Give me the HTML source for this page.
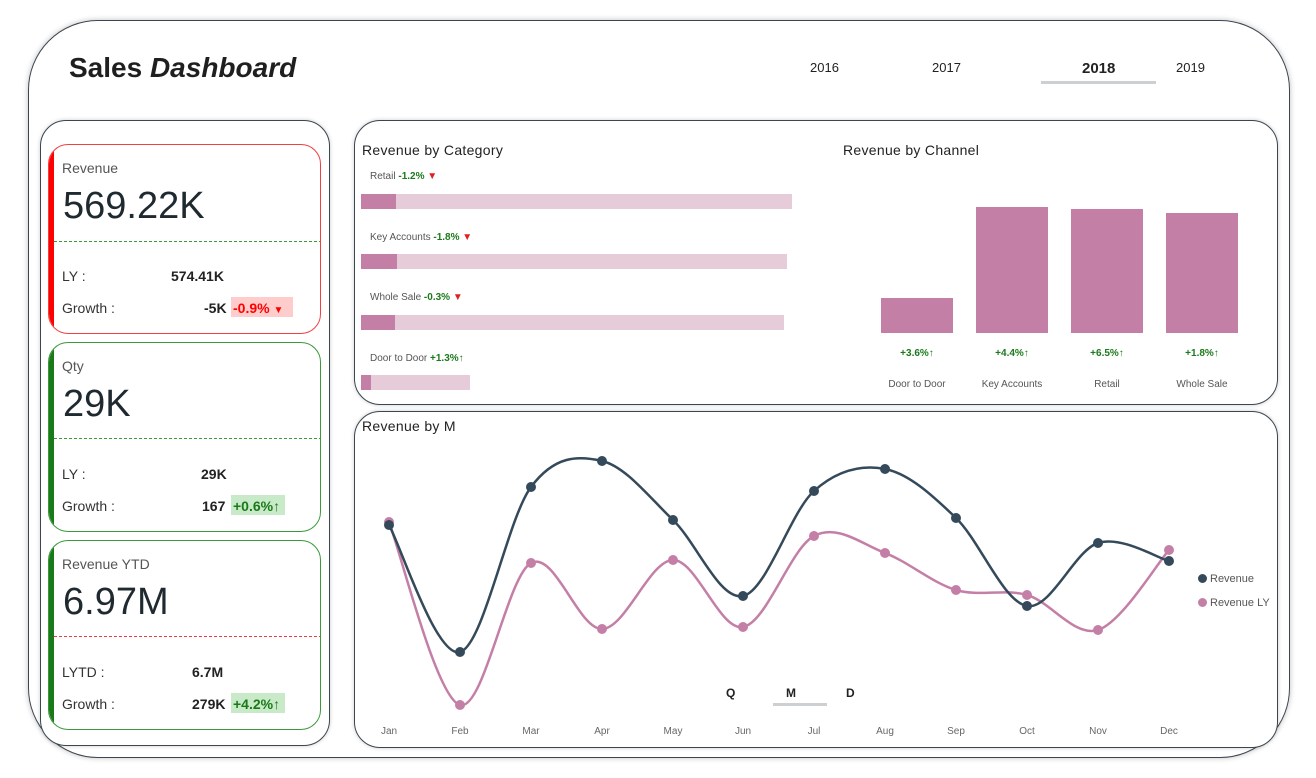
<!DOCTYPE html>
<html><head><meta charset="utf-8"><style>
*{margin:0;padding:0;box-sizing:border-box}
body{width:1316px;height:778px;background:#fff;position:relative;overflow:hidden;font-family:"Liberation Sans",sans-serif;color:#222}
.a{position:absolute}
.frame{left:28px;top:20px;width:1262px;height:738px;border:1.5px solid #3a4650;border-radius:70px;box-shadow:0 0 6px rgba(0,0,0,.25)}
.panel{border:1.3px solid #3a4650;border-radius:26px;box-shadow:0 0 4px rgba(0,0,0,.2);background:#fff}
.card{border-radius:20px;background:#fff;overflow:hidden}
.bar{position:absolute;left:0;top:0;bottom:0;width:5px}
.t{font-size:14px;color:#555}
.big{font-size:38px;color:#1f2a30}
.sm{font-size:14px;color:#333}
.b{font-weight:bold;font-size:14px;color:#222}
.h{font-size:14px;color:#222;letter-spacing:.3px}
.cat{font-size:10px;color:#555}
.g{color:#1a7a1a;font-weight:bold}
.r{color:#e02020}
.lbl{font-size:10px;color:#555;text-align:center;width:90px}
.pct{font-size:10px;color:#1a7a1a;font-weight:bold;text-align:center;width:90px}
</style></head><body>
<div class="a frame"></div>
<div class="a" style="left:69px;top:52px;font-size:28px;font-weight:bold;color:#1f1f1f">Sales <i>Dashboard</i></div>
<div class="a" style="left:810px;top:60px;font-size:13px">2016</div>
<div class="a" style="left:932px;top:60px;font-size:13px">2017</div>
<div class="a" style="left:1082px;top:60px;font-size:15px;font-weight:bold">2018</div>
<div class="a" style="left:1041px;top:81px;width:115px;height:3px;background:#ccd0d3"></div>
<div class="a" style="left:1176px;top:60px;font-size:13px">2019</div>

<div class="a panel" style="left:40px;top:120px;width:290px;height:626px"></div>
<!-- card 1 -->
<div class="a card" style="left:48px;top:144px;width:273px;height:190px;border:1px solid #f04040">
 <div class="bar" style="background:#f00"></div>
 <div class="a t" style="left:13px;top:15px">Revenue</div>
 <div class="a big" style="left:14px;top:40px">569.22K</div>
 <div class="a" style="left:5px;top:96px;width:268px;border-top:1px dashed #3a9a3a"></div>
 <div class="a sm" style="left:13px;top:123px">LY :</div>
 <div class="a b" style="left:122px;top:123px">574.41K</div>
 <div class="a sm" style="left:13px;top:155px">Growth :</div>
 <div class="a b" style="left:155px;top:155px">-5K</div>
 <div class="a" style="left:182px;top:152px;width:62px;height:20px;background:#fcc"></div>
 <div class="a" style="left:184px;top:155px;font-size:14px;font-weight:bold;color:#f00">-0.9% <span style="font-size:10px">▼</span></div>
</div>
<!-- card 2 -->
<div class="a card" style="left:48px;top:342px;width:273px;height:190px;border:1px solid #3a9a3a">
 <div class="bar" style="background:#1a7a1a"></div>
 <div class="a t" style="left:13px;top:15px">Qty</div>
 <div class="a big" style="left:14px;top:40px">29K</div>
 <div class="a" style="left:5px;top:95px;width:268px;border-top:1px dashed #3a9a3a"></div>
 <div class="a sm" style="left:13px;top:123px">LY :</div>
 <div class="a b" style="left:152px;top:123px">29K</div>
 <div class="a sm" style="left:13px;top:155px">Growth :</div>
 <div class="a b" style="left:153px;top:155px">167</div>
 <div class="a" style="left:182px;top:152px;width:54px;height:20px;background:#c8eac8"></div>
 <div class="a g" style="left:184px;top:155px;font-size:14px">+0.6%↑</div>
</div>
<!-- card 3 -->
<div class="a card" style="left:48px;top:540px;width:273px;height:190px;border:1px solid #3a9a3a">
 <div class="bar" style="background:#1a7a1a"></div>
 <div class="a t" style="left:13px;top:15px">Revenue YTD</div>
 <div class="a big" style="left:14px;top:40px">6.97M</div>
 <div class="a" style="left:5px;top:95px;width:268px;border-top:1px dashed #e04040"></div>
 <div class="a sm" style="left:13px;top:123px">LYTD :</div>
 <div class="a b" style="left:143px;top:123px">6.7M</div>
 <div class="a sm" style="left:13px;top:155px">Growth :</div>
 <div class="a b" style="left:143px;top:155px">279K</div>
 <div class="a" style="left:182px;top:152px;width:54px;height:20px;background:#c8eac8"></div>
 <div class="a g" style="left:184px;top:155px;font-size:14px">+4.2%↑</div>
</div>

<div class="a panel" style="left:354px;top:120px;width:924px;height:285px"></div>
<div class="a h" style="left:362px;top:142px">Revenue by Category</div>
<div class="a cat" style="left:370px;top:171px">Retail <span class="g">-1.2%</span> <span class="r">▼</span></div>
<div class="a" style="left:361px;top:194px;width:431px;height:15px;background:#e6cbd9"></div><div class="a" style="left:361px;top:194px;width:35px;height:15px;background:#c47fa6"></div>
<div class="a cat" style="left:370px;top:232px">Key Accounts <span class="g">-1.8%</span> <span class="r">▼</span></div>
<div class="a" style="left:361px;top:254px;width:426px;height:15px;background:#e6cbd9"></div><div class="a" style="left:361px;top:254px;width:36px;height:15px;background:#c47fa6"></div>
<div class="a cat" style="left:370px;top:292px">Whole Sale <span class="g">-0.3%</span> <span class="r">▼</span></div>
<div class="a" style="left:361px;top:315px;width:423px;height:15px;background:#e6cbd9"></div><div class="a" style="left:361px;top:315px;width:34px;height:15px;background:#c47fa6"></div>
<div class="a cat" style="left:370px;top:353px">Door to Door <span class="g">+1.3%↑</span></div>
<div class="a" style="left:361px;top:375px;width:109px;height:15px;background:#e6cbd9"></div><div class="a" style="left:361px;top:375px;width:10px;height:15px;background:#c47fa6"></div>

<div class="a h" style="left:843px;top:142px">Revenue by Channel</div>
<div class="a" style="left:881px;top:298px;width:72px;height:35px;background:#c47fa6"></div>
<div class="a" style="left:976px;top:207px;width:72px;height:126px;background:#c47fa6"></div>
<div class="a" style="left:1071px;top:209px;width:72px;height:124px;background:#c47fa6"></div>
<div class="a" style="left:1166px;top:213px;width:72px;height:120px;background:#c47fa6"></div>
<div class="a pct" style="left:872px;top:348px">+3.6%↑</div>
<div class="a pct" style="left:967px;top:348px">+4.4%↑</div>
<div class="a pct" style="left:1062px;top:348px">+6.5%↑</div>
<div class="a pct" style="left:1157px;top:348px">+1.8%↑</div>
<div class="a lbl" style="left:872px;top:379px">Door to Door</div>
<div class="a lbl" style="left:967px;top:379px">Key Accounts</div>
<div class="a lbl" style="left:1062px;top:379px">Retail</div>
<div class="a lbl" style="left:1157px;top:379px">Whole Sale</div>

<div class="a panel" style="left:354px;top:411px;width:924px;height:337px"></div>
<div class="a h" style="left:362px;top:418px">Revenue by M</div>
<svg class="a" style="left:0;top:0" width="1316" height="778" id="sv"></svg>
<div class="a" style="left:726px;top:686px;font-size:12px;font-weight:bold">Q</div>
<div class="a" style="left:786px;top:686px;font-size:12px;font-weight:bold">M</div>
<div class="a" style="left:773px;top:703px;width:54px;height:3px;background:#ccd0d3"></div>
<div class="a" style="left:846px;top:686px;font-size:12px;font-weight:bold">D</div>
<div class="a" style="left:1198px;top:574px;width:9px;height:9px;border-radius:50%;background:#34495a"></div>
<div class="a" style="left:1210px;top:573px;font-size:11px;color:#555">Revenue</div>
<div class="a" style="left:1198px;top:598px;width:9px;height:9px;border-radius:50%;background:#c47fa6"></div>
<div class="a" style="left:1210px;top:597px;font-size:11px;color:#555">Revenue LY</div>
<script>
var xs=[389,460,531,602,673,743,814,885,956,1027,1098,1169];
var m=["Jan","Feb","Mar","Apr","May","Jun","Jul","Aug","Sep","Oct","Nov","Dec"];
var rv=[525,652,487,461,520,596,491,469,518,606,543,561];
var ly=[522,705,563,629,560,627,536,553,590,595,630,550];
var s='';
function path(y){var p='M'+xs[0]+' '+y[0];for(var i=0;i<11;i++){var x0=xs[Math.max(i-1,0)],y0=y[Math.max(i-1,0)],x1=xs[i],y1=y[i],x2=xs[i+1],y2=y[i+1],x3=xs[Math.min(i+2,11)],y3=y[Math.min(i+2,11)];
p+=' C'+(x1+(x2-x0)/6)+' '+(y1+(y2-y0)/6)+' '+(x2-(x3-x1)/6)+' '+(y2-(y3-y1)/6)+' '+x2+' '+y2;}return p;}
s+='<path d="'+path(ly)+'" fill="none" stroke="#c47fa6" stroke-width="2.5"/>';
s+='<path d="'+path(rv)+'" fill="none" stroke="#34495a" stroke-width="2.5"/>';
for(var i=0;i<12;i++){s+='<circle cx="'+xs[i]+'" cy="'+ly[i]+'" r="5" fill="#c47fa6"/><circle cx="'+xs[i]+'" cy="'+rv[i]+'" r="5" fill="#34495a"/>';
s+='<text x="'+xs[i]+'" y="734" font-size="10" fill="#666" text-anchor="middle" font-family="Liberation Sans, sans-serif">'+m[i]+'</text>';}
document.getElementById('sv').innerHTML=s;
</script>
</body></html>
